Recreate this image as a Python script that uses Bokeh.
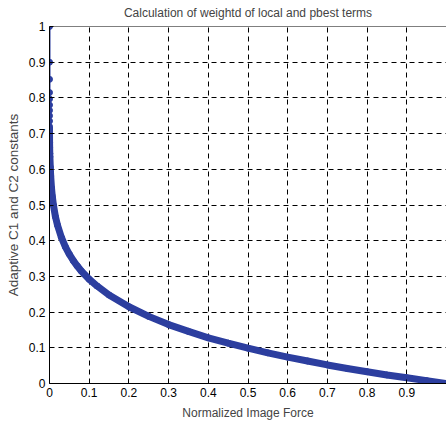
from bokeh.plotting import figure
from bokeh.models import Range1d, FixedTicker, Span
from bokeh.embed import file_html
from bokeh.resources import INLINE

# Normalized image force (x) and adaptive constants (y)
force = [0.0, 1e-8, 1e-7, 5e-7, 1e-6, 2e-6, 4e-6, 8e-6, 1.5e-5, 3e-5, 6e-5,
         1e-4, 2e-4, 4e-4, 7e-4, 0.001, 0.002, 0.003, 0.005, 0.007, 0.01,
         0.015, 0.02, 0.03, 0.04, 0.05, 0.06, 0.07, 0.08, 0.1, 0.12, 0.15,
         0.2, 0.25, 0.3, 0.35, 0.4, 0.45, 0.5, 0.55, 0.6, 0.65, 0.7, 0.75,
         0.8, 0.85, 0.9, 0.95, 1.0]
constants = [1.0, 0.90, 0.852, 0.815, 0.797, 0.78, 0.765, 0.75, 0.735, 0.72,
             0.705, 0.69, 0.675, 0.66, 0.645, 0.635, 0.606, 0.581, 0.548,
             0.525, 0.499, 0.467, 0.444, 0.409, 0.383, 0.362, 0.344, 0.329,
             0.315, 0.292, 0.273, 0.248, 0.215, 0.188, 0.165, 0.146, 0.128,
             0.113, 0.099, 0.086, 0.074, 0.063, 0.052, 0.042, 0.033, 0.024,
             0.016, 0.008, 0.0]

x_ticks = [0, 0.1, 0.2, 0.3, 0.4, 0.5, 0.6, 0.7, 0.8, 0.9]
y_ticks = [0, 0.1, 0.2, 0.3, 0.4, 0.5, 0.6, 0.7, 0.8, 0.9, 1.0]

FONT = "Liberation Sans"
BLUE = "#2C3E9F"

p = figure(width=446, height=423, output_backend="svg", toolbar_location=None,
           x_range=Range1d(0, 1), y_range=Range1d(0, 1),
           title="Calculation of weightd of local and pbest terms",
           x_axis_label="Normalized Image Force",
           y_axis_label="Adaptive C1 and C2 constants",
           min_border_left=49, min_border_right=0, min_border_top=4,
           min_border_bottom=40)

p.title.text_font = FONT
p.title.text_font_size = "12px"
p.title.text_font_style = "normal"
p.title.align = "center"
p.title.vertical_align = "top"
p.title.offset = 0
p.title.standoff = 10
p.outline_line_color = None
p.background_fill_color = "white"
p.border_fill_color = "white"

for ax in (p.xaxis[0], p.yaxis[0]):
    ax.axis_line_color = "black"
    ax.major_tick_in = 4
    ax.major_tick_out = 0
    ax.minor_tick_line_color = None
    ax.major_label_text_font = FONT
    ax.major_label_text_font_size = "12px"
    ax.major_label_text_color = "black"
    ax.axis_label_text_font = FONT
    ax.axis_label_text_font_style = "normal"
    ax.major_label_standoff = 4

p.xaxis.axis_label_text_font_size = "12px"
p.yaxis.axis_label_text_font_size = "13.5px"
p.xaxis.ticker = FixedTicker(ticks=x_ticks)
p.yaxis.ticker = FixedTicker(ticks=y_ticks)
p.xaxis.axis_label_standoff = 6
p.yaxis.axis_label_standoff = 5

for g in (p.xgrid[0], p.ygrid[0]):
    g.grid_line_color = "black"
    g.grid_line_dash = "5 4"
    g.grid_line_width = 1
p.xgrid.ticker = FixedTicker(ticks=x_ticks)
p.ygrid.ticker = FixedTicker(ticks=y_ticks)

p.add_layout(Span(location=1.0, dimension="width", line_color="black", line_width=1))

# thin connecting line with dot markers (visible where samples are sparse)
p.line(force, constants, line_color=BLUE, line_width=2)
p.scatter(force, constants, size=6, fill_color=BLUE, line_color=BLUE)
# dense part of the sampled curve appears as a thick band
dense = [i for i, c in enumerate(constants) if c <= 0.72]
p.line([force[i] for i in dense], [constants[i] for i in dense],
       line_color=BLUE, line_width=7)

open("out.html", "w").write(file_html(p, INLINE))
